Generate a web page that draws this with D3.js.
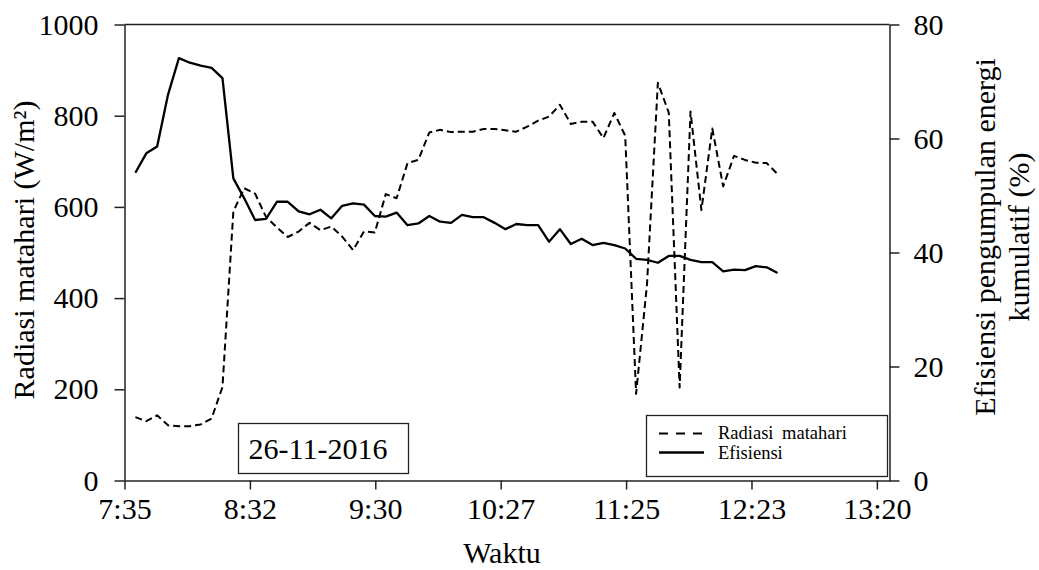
<!DOCTYPE html>
<html>
<head>
<meta charset="utf-8">
<script src="https://cdn.jsdelivr.net/npm/d3@7"></script>
<style>
  html, body { margin: 0; padding: 0; background: #fff; }
  svg { display: block; }
  svg text { font-family: "Liberation Serif", "DejaVu Serif", serif !important; fill: #000; }
</style>
</head>
<body>
<svg id="chart" width="1039" height="570"></svg>
<script>
// ---- data ----
const times = ["7:40","7:45","7:50","7:55","8:00","8:05","8:10","8:15","8:20","8:25",
  "8:30","8:35","8:40","8:45","8:50","8:55","9:00","9:05","9:10","9:15",
  "9:20","9:25","9:30","9:35","9:40","9:45","9:50","9:55","10:00","10:05",
  "10:10","10:15","10:20","10:25","10:30","10:35","10:40","10:45","10:50","10:55",
  "11:00","11:05","11:10","11:15","11:20","11:25","11:30","11:35","11:40","11:45",
  "11:50","11:55","12:00","12:05","12:10","12:15","12:20","12:25","12:30","12:35"];
const radiasi = [139,130,143,121,119,119,123,136,205,590,
  641,629,578,555,534,546,565,549,557,535,
  505,546,544,628,619,696,703,763,769,764,
  765,765,771,771,768,765,776,789,798,824,
  782,787,787,751,806,756,190,430,872,807,
  204,809,593,772,645,712,703,697,696,672];
const efisiensi = [54.0,57.4,58.6,67.7,74.1,73.3,72.8,72.4,70.6,53.0,
  49.5,45.7,45.9,48.9,48.9,47.2,46.7,47.5,46.0,48.2,
  48.6,48.4,46.4,46.3,47.0,44.8,45.1,46.4,45.4,45.2,
  46.6,46.2,46.2,45.2,44.1,45.0,44.8,44.8,41.9,44.1,
  41.5,42.4,41.3,41.7,41.3,40.7,38.9,38.7,38.2,39.4,
  39.4,38.7,38.3,38.3,36.7,37.0,36.9,37.6,37.4,36.4];
const xTickValues = [455, 512.6, 570.2, 627.8, 685.4, 743, 800.6];
const xTickLabels = ["7:35","8:32","9:30","10:27","11:25","12:23","13:20"];
const leftTicks = [0,200,400,600,800,1000];
const rightTicks = [0,20,40,60,80];
const dateLabel = "26-11-2016";
const legendLabels = ["Radiasi matahari", "Efisiensi"];

// ---- layout ----
const FONT = "'Liberation Serif', 'DejaVu Serif', serif";
const svg = d3.select("#chart").attr("font-family", FONT);
const L = 124.5, R = 889.5, T = 24.5, B = 480.5;
const toMin = s => { const [h, m] = s.split(":").map(Number); return h * 60 + m; };

const x = d3.scaleLinear().domain([455, 806.4]).range([L, R]);
const yL = d3.scaleLinear().domain([0, 1000]).range([B, T]);
const yR = d3.scaleLinear().domain([0, 80]).range([B, T]);

const data = times.map((t, i) => ({ t: toMin(t), r: radiasi[i], e: efisiensi[i] }));

const axisColor = "#222";
const fs = 30;

// top border
svg.append("line").attr("x1", L).attr("x2", R).attr("y1", T).attr("y2", T)
  .attr("stroke", axisColor).attr("stroke-width", 1.5);

// bottom axis
const gx = svg.append("g").attr("transform", `translate(0,${B})`)
  .call(d3.axisBottom(x).tickValues(xTickValues)
    .tickFormat((d, i) => xTickLabels[i]).tickSize(9).tickPadding(8).tickSizeOuter(0));
// left axis
const gl = svg.append("g").attr("transform", `translate(${L},0)`)
  .call(d3.axisLeft(yL).tickValues(leftTicks).tickFormat(d3.format("d"))
    .tickSize(10).tickPadding(16).tickSizeOuter(0));
// right axis
const gr = svg.append("g").attr("transform", `translate(${R},0)`)
  .call(d3.axisRight(yR).tickValues(rightTicks).tickFormat(d3.format("d"))
    .tickSize(10).tickPadding(14).tickSizeOuter(0));

[gx, gl, gr].forEach(g => {
  g.attr("font-family", FONT).attr("font-size", fs);
  g.selectAll(".domain").attr("stroke", axisColor).attr("stroke-width", 1.5);
  g.selectAll(".tick line").attr("stroke", axisColor).attr("stroke-width", 1.5);
  g.selectAll(".tick text").attr("font-size", fs).attr("fill", "#000");
});

// lines
const lineR = d3.line().x(d => x(d.t)).y(d => yL(d.r));
const lineE = d3.line().x(d => x(d.t)).y(d => yR(d.e));

svg.append("path").datum(data).attr("d", lineR)
  .attr("fill", "none").attr("stroke", "#000").attr("stroke-width", 2)
  .attr("stroke-dasharray", "7,4").attr("stroke-linejoin", "round");
svg.append("path").datum(data).attr("d", lineE)
  .attr("fill", "none").attr("stroke", "#000").attr("stroke-width", 2.3)
  .attr("stroke-linejoin", "round");

// axis titles
svg.append("text").attr("x", 502).attr("y", 563).attr("text-anchor", "middle")
  .attr("font-size", fs).text("Waktu");
svg.append("text").attr("transform", "translate(34,250) rotate(-90)")
  .attr("text-anchor", "middle").attr("font-size", fs).text("Radiasi matahari (W/m²)");
svg.append("text").attr("transform", "translate(995,237) rotate(-90)")
  .attr("text-anchor", "middle").attr("font-size", fs).text("Efisiensi pengumpulan energi");
svg.append("text").attr("transform", "translate(1029,237) rotate(-90)")
  .attr("text-anchor", "middle").attr("font-size", fs).text("kumulatif (%)");

// date box
svg.append("rect").attr("x", 238.5).attr("y", 423.5).attr("width", 170).attr("height", 50)
  .attr("fill", "#fff").attr("stroke", "#222").attr("stroke-width", 1.3);
svg.append("text").attr("x", 318).attr("y", 459).attr("text-anchor", "middle")
  .attr("font-size", 30).text(dateLabel);

// legend
const lg = svg.append("g");
lg.append("rect").attr("x", 646.5).attr("y", 415.5).attr("width", 241).attr("height", 61)
  .attr("fill", "#fff").attr("stroke", "#222").attr("stroke-width", 1.3);
lg.append("line").attr("x1", 659).attr("x2", 704).attr("y1", 433.5).attr("y2", 433.5)
  .attr("stroke", "#000").attr("stroke-width", 2).attr("stroke-dasharray", "9,8");
lg.append("line").attr("x1", 659).attr("x2", 704).attr("y1", 452.5).attr("y2", 452.5)
  .attr("stroke", "#000").attr("stroke-width", 2.3);
lg.append("text").attr("x", 718).attr("y", 439).attr("font-size", 18.5)
  .attr("word-spacing", 4).text(legendLabels[0]);
lg.append("text").attr("x", 718).attr("y", 459).attr("font-size", 18.5).text(legendLabels[1]);
</script>
</body>
</html>
